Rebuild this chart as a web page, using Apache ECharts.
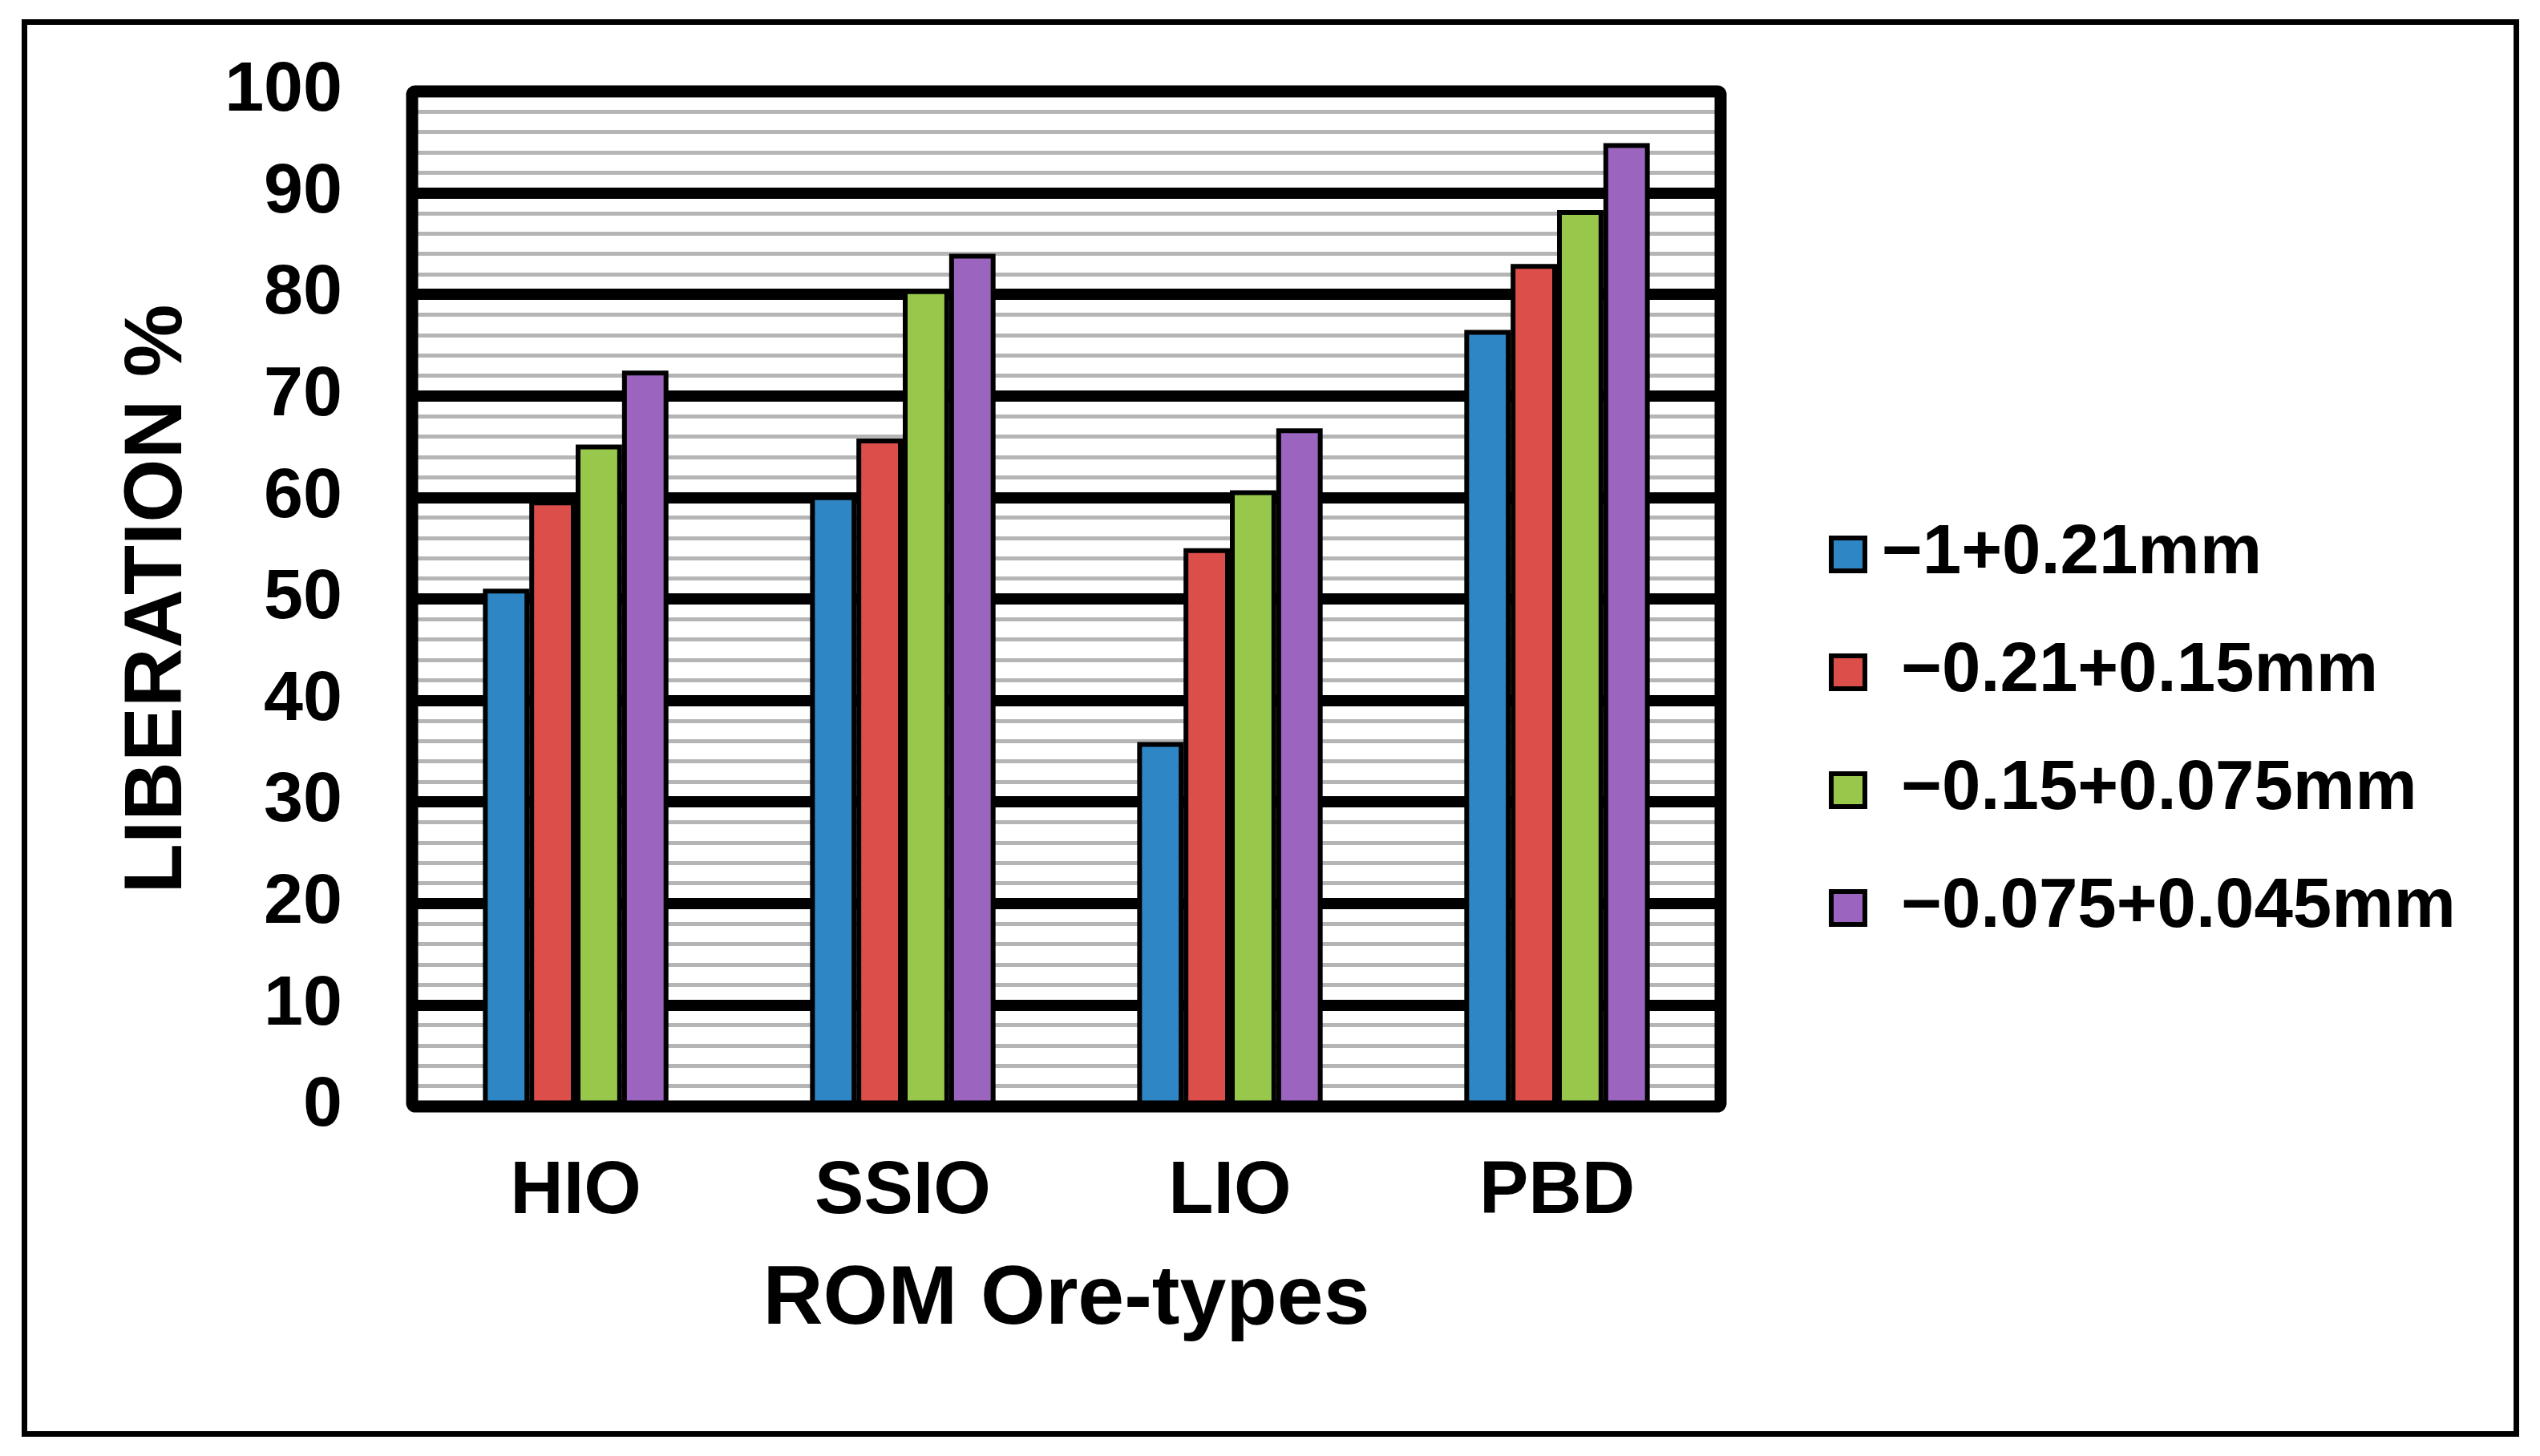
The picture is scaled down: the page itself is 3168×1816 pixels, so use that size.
<!DOCTYPE html>
<html>
<head>
<meta charset="utf-8">
<script src="https://cdn.jsdelivr.net/npm/echarts@6/dist/echarts.min.js"></script>
<style>
html,body{margin:0;padding:0;background:#fff;}
#chart{width:3168px;height:1816px;}
</style>
</head>
<body>
<div id="chart"></div>
<script>
const categories = ['HIO', 'SSIO', 'LIO', 'PBD'];
const seriesNames = ['\u22121+0.21mm', ' \u22120.21+0.15mm', ' \u22120.15+0.075mm', ' \u22120.075+0.045mm'];
const valuesA = [51.0, 60.2, 35.9, 76.5];
const valuesB = [59.7, 65.8, 55.0, 83.0];
const valuesC = [65.2, 80.5, 60.7, 88.3];
const valuesD = [72.5, 84.0, 66.8, 94.9];
const colors = ['#2f86c5', '#dc4e4a', '#97c84c', '#9a64bf'];
const yMin = 0, yMax = 100, yInterval = 10;

const FONT = '"Liberation Sans", Arial, sans-serif';
const G = { left: 514, top: 114, right: 1022, bottom: 436 };
const W = 3168, H = 1816;

const chart = echarts.init(document.getElementById('chart'), null, { renderer: 'canvas' });
const allValues = [valuesA, valuesB, valuesC, valuesD];

const option = {
  backgroundColor: '#ffffff',
  animation: false,
  grid: { left: G.left, top: G.top, right: G.right, bottom: G.bottom, show: true, backgroundColor: '#ffffff', borderWidth: 0 },
  legend: {
    orient: 'vertical',
    left: 2281,
    top: 648,
    padding: 0,
    itemWidth: 42,
    itemHeight: 41,
    itemGap: 60,
    icon: 'rect',
    itemStyle: { borderColor: '#000', borderWidth: 6 },
    textStyle: { fontFamily: FONT, fontWeight: 'bold', fontSize: 87, color: '#000', lineHeight: 50, padding: [0, 0, 0, 16] },
    data: seriesNames
  },
  xAxis: {
    type: 'category',
    data: categories,
    axisLine: { show: false },
    axisTick: { show: false },
    axisLabel: { fontFamily: FONT, fontWeight: 'bold', fontSize: 92, color: '#000', margin: 62 },
    name: 'ROM Ore-types',
    nameLocation: 'middle',
    nameGap: 190,
    nameTextStyle: { fontFamily: FONT, fontWeight: 'bold', fontSize: 104, color: '#000' }
  },
  yAxis: {
    type: 'value',
    min: yMin, max: yMax, interval: yInterval,
    axisLine: { show: false },
    axisTick: { show: false },
    axisLabel: { fontFamily: FONT, fontWeight: 'bold', fontSize: 88, color: '#000', margin: 87 },
    splitLine: { show: true, lineStyle: { color: '#000', width: 14 } },
    minorTick: { show: false, splitNumber: 5 },
    minorSplitLine: { show: true, lineStyle: { color: '#b5b5b5', width: 5 } },
    name: 'LIBERATION %',
    nameLocation: 'middle',
    nameGap: 265,
    nameTextStyle: { fontFamily: FONT, fontWeight: 'bold', fontSize: 102, color: '#000' }
  },
  series: allValues.map((vals, i) => ({
    name: seriesNames[i],
    type: 'bar',
    data: vals,
    barGap: '0%',
    barCategoryGap: '43.3%',
    itemStyle: { color: colors[i], borderColor: '#000', borderWidth: 6 }
  })),
  graphic: [
    {
      type: 'rect', z: 100, silent: true,
      shape: { x: G.left, y: G.top, width: W - G.left - G.right, height: H - G.top - G.bottom, r: 4 },
      style: { fill: 'none', stroke: '#000', lineWidth: 15 }
    },
    {
      type: 'rect', z: 100, silent: true,
      shape: { x: 30.5, y: 27.5, width: 3108, height: 1761 },
      style: { fill: 'none', stroke: '#000', lineWidth: 7 }
    }
  ]
};
chart.setOption(option);
</script>
</body>
</html>
